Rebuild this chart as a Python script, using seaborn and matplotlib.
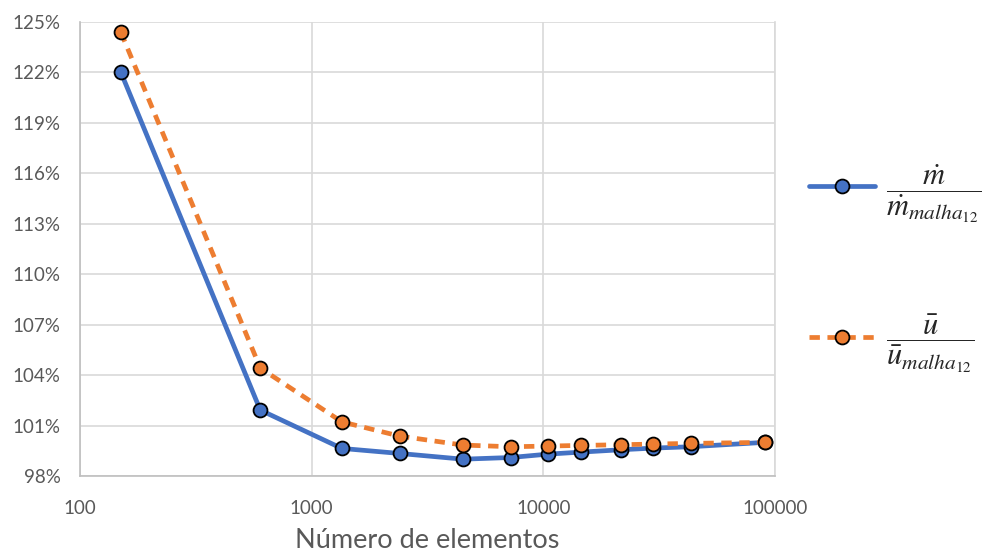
import matplotlib
matplotlib.use("Agg")
import matplotlib.pyplot as plt
import matplotlib.ticker as mticker
import seaborn as sns
import pandas as pd

elementos = [150, 600, 1350, 2400, 4500, 7230, 10460, 14490, 21630, 29890, 43230, 90100]
m_ratio = [122.02, 101.92, 99.64, 99.34, 99.00, 99.10, 99.30, 99.42, 99.56, 99.66, 99.74, 100.0]
u_ratio = [124.40, 104.42, 101.22, 100.37, 99.84, 99.74, 99.78, 99.82, 99.86, 99.90, 99.94, 100.0]
y_ticks = [98, 101, 104, 107, 110, 113, 116, 119, 122, 125]
x_ticks = [100, 1000, 10000, 100000]
label_m = r'$\dfrac{\dot{m}}{\dot{m}_{malha_{12}}}$'
label_u = r'$\dfrac{\bar{u}}{\bar{u}_{malha_{12}}}$'
x_title = "Número de elementos"

sns.set_theme(style="whitegrid")
plt.rcParams['font.family'] = ['Lato', 'DejaVu Sans']
plt.rcParams['mathtext.fontset'] = 'stix'

df = pd.DataFrame({
    "x": elementos * 2,
    "y": m_ratio + u_ratio,
    "serie": [label_m] * len(elementos) + [label_u] * len(elementos),
})

fig = plt.figure(figsize=(9.85, 5.55), dpi=100)
ax = fig.add_axes([80/985, 1-476/555, (775-80)/985, (476-22)/555])

palette = {label_m: "#4472C4", label_u: "#ED7D31"}
sns.lineplot(data=df, x="x", y="y", hue="serie", style="serie",
             palette=palette, dashes={label_m: "", label_u: (2.2, 1.6)},
             markers={label_m: "o", label_u: "o"}, markersize=10,
             markeredgecolor="black", markeredgewidth=1.3, linewidth=3.4,
             ax=ax, legend=True)

ax.set_xscale("log")
ax.set_xlim(100, 100000)
ax.set_ylim(98, 125)
ax.set_xticks(x_ticks)
ax.set_xticklabels([str(v) for v in x_ticks])
ax.xaxis.set_minor_locator(mticker.NullLocator())
ax.set_yticks(y_ticks)
ax.set_yticklabels([f"{v}%" for v in y_ticks])

ax.grid(True, color="#d9d9d9", linewidth=1.2)
ax.spines["top"].set_visible(False)
ax.spines["right"].set_color("#d9d9d9")
ax.spines["left"].set_color("#bfbfbf")
ax.spines["bottom"].set_color("#bfbfbf")
for s in ax.spines.values():
    s.set_linewidth(1.2)

ax.tick_params(axis="x", pad=17, labelsize=13.5, colors="#595959", length=0)
ax.tick_params(axis="y", pad=14, labelsize=13.5, colors="#595959", length=0)
ax.set_xlabel(x_title, fontsize=19.5, color="#595959", va="center")
ax.xaxis.set_label_coords(0.5, -64/454)
ax.set_ylabel("")

handles, labels = ax.get_legend_handles_labels()
ax.legend_.remove()
leg = fig.legend(handles, labels, loc="center left", bbox_to_anchor=(797/985, 1-269/555),
                 frameon=False, fontsize=22, labelspacing=2.9, handlelength=2.15,
                 handletextpad=0.35, borderaxespad=0)

fig.savefig("out.png", dpi=100)
